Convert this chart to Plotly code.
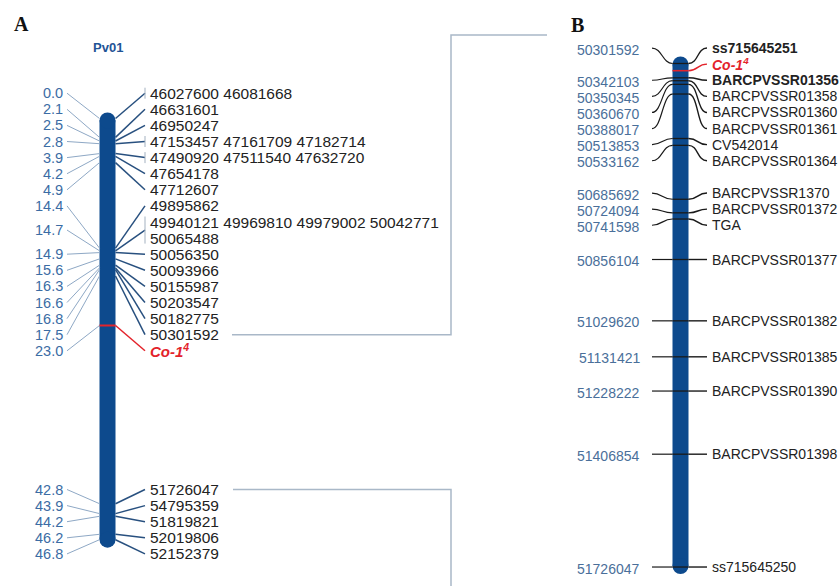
import plotly.graph_objects as go

W, H = 839, 586

# ---------------- data ----------------
# Panel A: Pv01 linkage map (cM) and the physical markers at each locus
A_CM = [0.0, 2.1, 2.5, 2.8, 3.9, 4.2, 4.9, 14.4, 14.7, 14.9, 15.6, 16.3,
        16.6, 16.8, 17.5, 23.0, 42.8, 43.9, 44.2, 46.2, 46.8]
A_CM_LABELS = ["0.0", "2.1", "2.5", "2.8", "3.9", "4.2", "4.9", "14.4", "14.7",
               "14.9", "15.6", "16.3", "16.6", "16.8", "17.5", "23.0", "42.8",
               "43.9", "44.2", "46.2", "46.8"]
A_MARKERS = [
    ["46027600 46081668"],
    ["46631601"],
    ["46950247"],
    ["47153457 47161709 47182714"],
    ["47490920 47511540 47632720"],
    ["47654178"],
    ["47712607"],
    ["49895862"],
    ["49940121 49969810 49979002 50042771", "50065488"],
    ["50056350"],
    ["50093966"],
    ["50155987"],
    ["50203547"],
    ["50182775"],
    ["50301592"],
    ["Co-1<sup>4</sup>"],
    ["51726047"],
    ["54795359"],
    ["51819821"],
    ["52019806"],
    ["52152379"],
]
A_GENE_INDEX = 15
A_TITLE = "Pv01"

# Panel B: physical map (bp) of the Co-1 region
B_POS = [50301592, 50322000, 50342103, 50350345, 50360670, 50388017, 50513853,
         50533162, 50685692, 50724094, 50741598, 50856104, 51029620, 51131421,
         51228222, 51406854, 51726047]
B_NAMES = ["ss715645251", "Co-1<sup>4</sup>", "BARCPVSSR01356", "BARCPVSSR01358",
           "BARCPVSSR01360", "BARCPVSSR01361", "CV542014", "BARCPVSSR01364",
           "BARCPVSSR1370", "BARCPVSSR01372", "TGA", "BARCPVSSR01377",
           "BARCPVSSR01382", "BARCPVSSR01385", "BARCPVSSR01390", "BARCPVSSR01398",
           "ss715645250"]
B_BOLD = ["ss715645251", "BARCPVSSR01356"]
B_GENE_INDEX = 1

# ---------------- styling / layout constants ----------------
FONT = "Liberation Sans, Arial, sans-serif"
SERIF = "Liberation Serif, Times New Roman, serif"
BAR = "#0d4a8d"
LEFT_TXT_A = "#3b6ca4"
LEFT_TXT_B = "#4a6f9a"
LEFT_LINE_A = "#8ea8c5"
RIGHT_LINE_A = "#28507f"
BRACKET = "#a3b1c0"
DARK = "#1a1a1a"
RED = "#e3232b"
CONN = "#a9b8c8"

A_PX0, A_PXPER = 118.5, 9.0                 # cM axis scale (px)
B_REF, B_REFPX, B_PXPER = 50856104, 259.5, 3.535e-4   # bp axis scale (px)
ROW = 16.1                                   # label row spacing (px)

A_RANGE = [(H - A_PX0) / A_PXPER, -A_PX0 / A_PXPER]
B_RANGE = [B_REF + (H - B_REFPX) / B_PXPER, B_REF - B_REFPX / B_PXPER]


def pxA(v): return A_PX0 + v * A_PXPER
def unA(px): return (px - A_PX0) / A_PXPER
def pxB(v): return B_REFPX + (v - B_REF) * B_PXPER
def unB(px): return B_REF + (px - B_REFPX) / B_PXPER


def spread(pos, nrows, gap):
    """Stack labels in rows; overlapping groups are centred on their span."""
    clusters = [[i] for i in range(len(pos))]

    def place(c):
        R = sum(nrows[i] for i in c)
        mid = (pos[c[0]] + pos[c[-1]]) / 2.0
        top = mid - (R - 1) * gap / 2.0
        return top, top + (R - 1) * gap

    changed = True
    while changed:
        changed = False
        for k in range(len(clusters) - 1):
            _, b1 = place(clusters[k])
            t2, _ = place(clusters[k + 1])
            if t2 < b1 + gap - 1e-9:
                clusters[k] = clusters[k] + clusters.pop(k + 1)
                changed = True
                break
    rows = {}
    for c in clusters:
        top, _ = place(c)
        r = 0
        for i in c:
            rows[i] = [top + (r + j) * gap for j in range(nrows[i])]
            r += nrows[i]
    return [rows[i] for i in range(len(pos))]


shapes = []
ann = []


def seg(x0, y0, x1, y1, yref, color, width):
    shapes.append(dict(type="line", xref="x", yref=yref, x0=x0, y0=y0, x1=x1, y1=y1,
                       line=dict(color=color, width=width)))


def chromosome(xc, w, top, bot, rad, yref):
    shapes.append(dict(type="rect", xref="x", yref=yref, x0=xc - w / 2, x1=xc + w / 2,
                       y0=top + rad, y1=bot - rad, fillcolor=BAR, line=dict(width=0)))
    for y0, y1 in ((top, top + 2 * rad), (bot - 2 * rad, bot)):
        shapes.append(dict(type="circle", xref="x", yref=yref, x0=xc - w / 2, x1=xc + w / 2,
                           y0=y0, y1=y1, fillcolor=BAR, line=dict(width=0)))


def text(x, y, yref, s, size, color, xanchor, bold=False, italic=False, family=FONT):
    if italic:
        s = "<i>" + s + "</i>"
    if bold:
        s = "<b>" + s + "</b>"
    ann.append(dict(x=x, y=y, xref="x", yref=yref, text=s, showarrow=False,
                    xanchor=xanchor, yanchor="middle", borderpad=0,
                    font=dict(family=family, size=size, color=color)))


# ---------------- Panel A ----------------
AX = 107.5
AW = 16
a_rows = spread(A_CM, [len(m) for m in A_MARKERS], ROW / A_PXPER)
chromosome(AX, AW, A_CM[0] - 6 / A_PXPER, A_CM[-1] + 8 / A_PXPER, (AW / 2) / A_PXPER, "y")

for i, cm in enumerate(A_CM):
    rows = a_rows[i]
    ly = sum(rows) / len(rows)
    gene = (i == A_GENE_INDEX)
    # left: genetic position
    seg(67, ly, AX - AW / 2, cm, "y", LEFT_LINE_A, 1)
    text(64, ly, "y", A_CM_LABELS[i], 14.5, LEFT_TXT_A, "right")
    # right: markers
    if gene:
        seg(AX - AW / 2, cm, AX + AW / 2, cm, "y", RED, 2)
        seg(AX + AW / 2, cm, 145, ly, "y", RED, 1.5)
    else:
        seg(AX + AW / 2, cm, 145, ly, "y", RIGHT_LINE_A, 1.5)
    multi = len(A_MARKERS[i]) > 1 or " " in A_MARKERS[i][0]
    if multi:
        seg(145, rows[0] - 5.5 / A_PXPER, 145, rows[-1] + 5.5 / A_PXPER, "y", BRACKET, 1)
    for j, lab in enumerate(A_MARKERS[i]):
        if gene:
            text(148.5, rows[j], "y", lab, 15, RED, "left", bold=True, italic=True)
        else:
            text(148.5, rows[j], "y", lab, 15.5, "#222222", "left")

text(AX, unA(47), "y", A_TITLE, 13, "#1f5496", "center", bold=True)
text(21, unA(24), "y", "A", 20, "#111111", "center", bold=True, family=SERIF)

# ---------------- Panel B ----------------
BX = 680.5
BW = 16
b_rows = [r[0] for r in spread(B_POS, [1] * len(B_POS), ROW / B_PXPER)]
chromosome(BX, BW, B_POS[0] - 7 / B_PXPER, B_POS[-1] + 7 / B_PXPER, (BW / 2) / B_PXPER, "y2")

for i, p in enumerate(B_POS):
    ly = b_rows[i]
    gene = (i == B_GENE_INDEX)
    col = RED if gene else DARK
    shapes.append(dict(type="line", xref="x", yref="y2", x0=BX - BW / 2, x1=BX + BW / 2,
                       y0=p, y1=p, line=dict(color=col, width=1.6 if gene else 1.3)))
    shapes.append(dict(type="path", xref="x", yref="y2",
                       path=f"M {BX + BW / 2},{p} C {BX + BW / 2 + 10},{p} {697},{ly} {707},{ly}",
                       line=dict(color=col, width=1.4)))
    name = B_NAMES[i]
    if gene:
        text(711, ly, "y2", name, 14, RED, "left", bold=True, italic=True)
        continue
    shapes.append(dict(type="path", xref="x", yref="y2",
                       path=f"M 652,{ly} C 662,{ly} {BX - BW / 2 - 10},{p} {BX - BW / 2},{p}",
                       line=dict(color=DARK, width=1.2)))
    text(641, ly + 1.5 / B_PXPER, "y2", str(p), 14, LEFT_TXT_B, "right")
    text(711, ly, "y2", name, 14, "#222222", "left", bold=(name in B_BOLD))

text(577, unB(25), "y2", "B", 20, "#111111", "center", bold=True, family=SERIF)

# ---------------- connectors between panels ----------------
top_conn = unA(pxB(b_rows[0]) - 13)
y_a1 = a_rows[A_MARKERS.index(["50301592"])][0]
y_a2 = a_rows[A_MARKERS.index(["51726047"])][0]
shapes.append(dict(type="path", xref="x", yref="y",
                   path=f"M 232,{y_a1} L 451,{y_a1} L 451,{top_conn} L 547,{top_conn}",
                   line=dict(color=CONN, width=1.5)))
shapes.append(dict(type="path", xref="x", yref="y",
                   path=f"M 233,{y_a2} L 451,{y_a2} L 451,{unA(H)}",
                   line=dict(color=CONN, width=1.5)))

# ---------------- figure ----------------
fig = go.Figure()
fig.add_trace(go.Scatter(x=[AX] * len(A_CM), y=A_CM, mode="markers", yaxis="y",
                         marker=dict(opacity=0), hoverinfo="skip", showlegend=False))
fig.add_trace(go.Scatter(x=[BX] * len(B_POS), y=B_POS, mode="markers", yaxis="y2",
                         marker=dict(opacity=0), hoverinfo="skip", showlegend=False))
fig.update_layout(
    width=W, height=H,
    margin=dict(l=0, r=0, t=0, b=0),
    paper_bgcolor="white", plot_bgcolor="white",
    showlegend=False,
    xaxis=dict(range=[0, W], visible=False, fixedrange=True),
    yaxis=dict(range=A_RANGE, visible=False, fixedrange=True),
    yaxis2=dict(range=B_RANGE, visible=False, overlaying="y", fixedrange=True),
    shapes=shapes,
    annotations=ann,
)
fig.write_html("out.html", config={"displayModeBar": False, "staticPlot": True},
               post_script="document.body.style.margin='0';document.body.style.overflow='hidden';")
